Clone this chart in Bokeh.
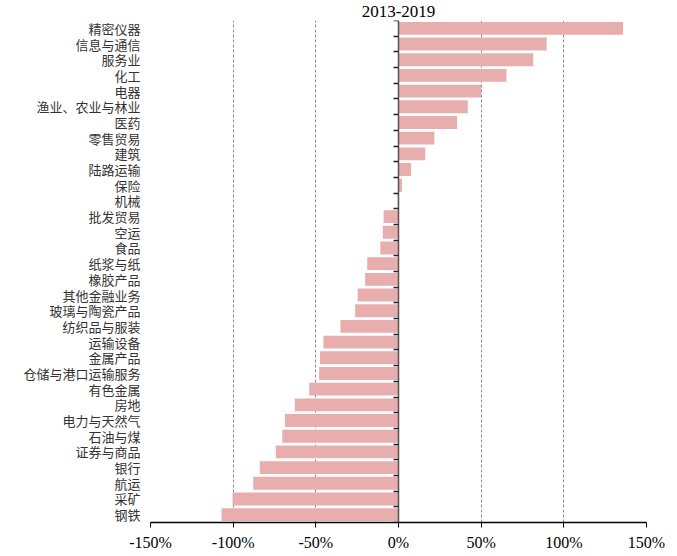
from bokeh.plotting import figure
from bokeh.models import FixedTicker, LinearAxis, Range1d
from bokeh.embed import file_html
from bokeh.resources import INLINE

# Cumulative change 2013-2019 by industry, in percent
industries = [
    "精密仪器", "信息与通信", "服务业", "化工", "电器", "渔业、农业与林业", "医药",
    "零售贸易", "建筑", "陆路运输", "保险", "机械", "批发贸易", "空运", "食品",
    "纸浆与纸", "橡胶产品", "其他金融业务", "玻璃与陶瓷产品", "纺织品与服装",
    "运输设备", "金属产品", "仓储与港口运输服务", "有色金属", "房地",
    "电力与天然气", "石油与煤", "证券与商品", "银行", "航运", "采矿", "钢铁",
]
changes = [
    135.8, 89.6, 81.5, 65.3, 50.1, 41.9, 35.4,
    21.7, 16.2, 7.6, 2.1, -0.5, -9.0, -9.5, -11.0,
    -18.9, -20.2, -24.7, -26.2, -35.1,
    -45.4, -47.5, -48.0, -54.0, -62.7,
    -68.7, -70.3, -74.2, -83.9, -87.9, -100.4, -107.0,
]
x_ticks = [-150, -100, -50, 0, 50, 100, 150]
x_tick_labels = ["-150%", "-100%", "-50%", "0%", "50%", "100%", "150%"]
title_text = "2013-2019"

n = len(industries)
rows = [n - i - 0.5 for i in range(n)]  # first industry at the top

p = figure(
    width=677, height=556,
    x_range=Range1d(-150, 150), y_range=Range1d(0, n),
    output_backend="svg", toolbar_location=None,
    title=title_text, y_axis_location=None,
    min_border_left=150, min_border_right=31,
    min_border_top=4, min_border_bottom=34,
)
p.outline_line_color = None
p.background_fill_color = "white"
p.border_fill_color = "white"

p.title.align = "center"
p.title.text_font = "Liberation Serif"
p.title.text_font_size = "17px"
p.title.text_font_style = "normal"
p.title.text_color = "black"
p.title.standoff = 7

p.hbar(y=rows, left=0, right=changes, height=0.82,
       fill_color="#E8ADAD", line_color=None)

# bottom percentage axis
xa = p.xaxis[0]
xa.ticker = FixedTicker(ticks=x_ticks)
xa.major_label_overrides = {t: s for t, s in zip(x_ticks, x_tick_labels)}
xa.major_label_text_font = "Liberation Serif"
xa.major_label_text_font_size = "16px"
xa.major_label_text_color = "black"
xa.axis_line_color = "black"
xa.axis_line_width = 1.5
xa.major_tick_line_color = "black"
xa.major_tick_in = 0
xa.major_tick_out = 5
xa.minor_tick_line_color = None
xa.major_label_standoff = 6

# dashed vertical grid
p.xgrid.ticker = FixedTicker(ticks=[t for t in x_ticks if t != 0])
p.xgrid.grid_line_color = "#8a8a8a"
p.xgrid.grid_line_dash = "3 2"
p.xgrid.grid_line_width = 1
p.ygrid.grid_line_color = None

# industry names on the left
ya = LinearAxis(
    ticker=FixedTicker(ticks=rows),
    major_label_overrides={r: name for r, name in zip(rows, industries)},
)
ya.major_label_text_font = "Noto Sans CJK SC"
ya.major_label_text_font_size = "13px"
ya.major_label_text_color = "#333333"
ya.axis_line_color = None
ya.major_tick_line_color = None
ya.minor_tick_line_color = None
ya.major_label_standoff = 4
p.add_layout(ya, "left")

# zero line with category boundary ticks
za = LinearAxis(
    fixed_location=0,
    ticker=FixedTicker(ticks=list(range(n + 1))),
    major_label_overrides={k: " " for k in range(n + 1)},
)
za.axis_line_color = "#555555"
za.axis_line_width = 1.5
za.major_tick_line_color = "#222222"
za.major_tick_line_width = 1.5
za.major_tick_in = 0
za.major_tick_out = 5
za.minor_tick_line_color = None
za.major_label_text_font_size = "1px"
za.major_label_standoff = 0
p.add_layout(za, "left")

open("out.html", "w").write(file_html(p, INLINE))
